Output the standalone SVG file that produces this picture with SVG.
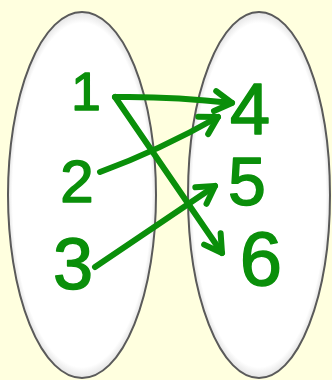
<svg xmlns="http://www.w3.org/2000/svg" width="332" height="380" viewBox="0 0 332 380">
  <style>
    .set { stroke: #5a5a5a; stroke-width: 2; fill: url(#setFill); }
    .num { font-family: "Liberation Sans", Arial, sans-serif; fill: #0a8f0a; stroke: #0a8f0a; stroke-width: 1.5; stroke-linejoin: round; text-anchor: middle; }
    .arrow { fill: none; stroke: #0a8f0a; stroke-width: 6; stroke-linecap: round; stroke-linejoin: round; marker-end: url(#head); }
  </style>
  <defs>
    <radialGradient id="setFill" cx="0.5" cy="0.5" r="0.5">
      <stop offset="0" stop-color="#ffffff"/>
      <stop offset="0.94" stop-color="#ffffff"/>
      <stop offset="1" stop-color="#e4e4e4"/>
    </radialGradient>
    <marker id="head" markerUnits="userSpaceOnUse" viewBox="-25 -15 30 30" markerWidth="30" markerHeight="30" refX="0" refY="0" orient="auto">
      <path d="M-17,-10 L0,0 L-17,10" fill="none" stroke="#0a8f0a" stroke-width="6" stroke-linecap="round" stroke-linejoin="round"/>
    </marker>
  </defs>
  <rect x="0" y="0" width="332" height="380" fill="#ffffdf"/>
  <g id="setA"><ellipse class="set" cx="82" cy="195" rx="74" ry="183"/></g>
  <g id="setB"><ellipse class="set" cx="259" cy="195" rx="71" ry="183"/></g>
  <g id="n1"><text class="num" x="86" y="110" font-size="53">1</text></g>
  <g id="n2"><text class="num" x="77" y="202" font-size="60">2</text></g>
  <g id="n3"><text class="num" x="73" y="289" font-size="72">3</text></g>
  <g id="n4"><text class="num" x="250" y="134" font-size="72">4</text></g>
  <g id="n5"><text class="num" x="247" y="205" font-size="68">5</text></g>
  <g id="n6"><text class="num" x="261" y="285" font-size="76">6</text></g>
  <g id="connectors">
    <path class="arrow" d="M115,97 Q170,96 232,103"/>
    <path class="arrow" d="M115,97 L222,253"/>
    <path class="arrow" d="M100,172 Q160,150 218,117"/>
    <path class="arrow" d="M95,267 L215,186"/>
  </g>
</svg>
